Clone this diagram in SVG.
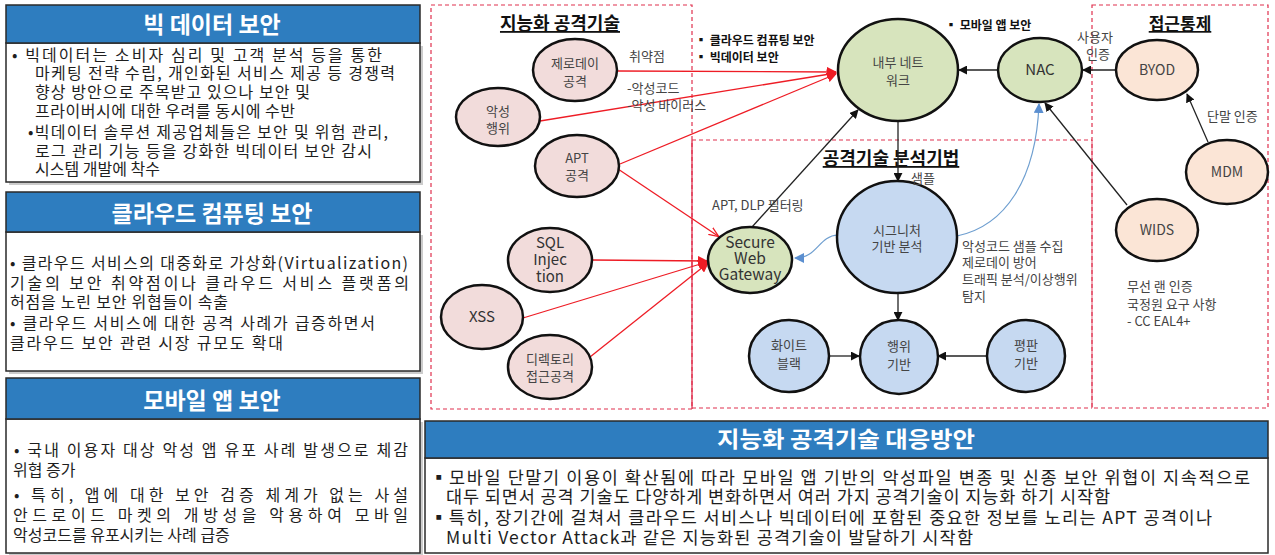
<svg xmlns="http://www.w3.org/2000/svg" width="1275" height="555" viewBox="0 0 1275 555">
<defs>
<style>
text{font-family:"Noto Sans CJK KR","Noto Sans",sans-serif}
.hdr{fill:#2e7dbf;stroke:#2a2a2a;stroke-width:1.5}
.body{fill:#fff;stroke:#2a2a2a;stroke-width:1.5}
.shd{fill:#9a9a9a;opacity:.5}
.ht{font-size:23px;font-weight:bold;fill:#fff;text-anchor:middle}
.bt{font-size:16px;fill:#1e1e1e}
.bt2{font-size:17.5px;fill:#1e1e1e}
.pink{fill:#f2dcdb;stroke:#111;stroke-width:2.5}
.green{fill:#d7e4bd;stroke:#111;stroke-width:2.5}
.blue{fill:#c6d9f1;stroke:#111;stroke-width:2.5}
.beige{fill:#fbe5d6;stroke:#111;stroke-width:2.5}
.nt{font-size:13px;fill:#444;text-anchor:middle}
.nl{font-size:15px;fill:#333;text-anchor:middle}
.lb{font-size:13px;fill:#444}
.bl{font-size:12px;font-weight:bold;fill:#111}
.ttl{font-size:18px;font-weight:bold;fill:#111;text-anchor:middle;text-decoration:underline}
.dash{fill:none;stroke:#e0304e;stroke-width:1.2;stroke-dasharray:4 3}
.red{stroke:#ee1c25;stroke-width:1.3;fill:none}
.blk{stroke:#222;stroke-width:1.3;fill:none}
.blu{stroke:#6f9fd0;stroke-width:1.2;fill:none}
</style>
<marker id="ar" viewBox="0 0 10 10" refX="9" refY="5" markerWidth="10" markerHeight="10" markerUnits="userSpaceOnUse" orient="auto"><path d="M0,0 L10,5 L0,10 z" fill="#ee1c25"/></marker>
<marker id="ao" viewBox="0 0 10 10" refX="9" refY="5" markerWidth="10" markerHeight="10" markerUnits="userSpaceOnUse" orient="auto"><path d="M0,1 L10,5 L0,9" fill="none" stroke="#ee1c25" stroke-width="1.2"/></marker>
<marker id="ak" viewBox="0 0 10 10" refX="9" refY="5" markerWidth="9" markerHeight="9" markerUnits="userSpaceOnUse" orient="auto"><path d="M0,0 L10,5 L0,10 z" fill="#111"/></marker>
<marker id="ab" viewBox="0 0 10 10" refX="9" refY="5" markerWidth="10" markerHeight="10" markerUnits="userSpaceOnUse" orient="auto"><path d="M0,0 L10,5 L0,10 z" fill="#5b8fd0"/></marker>
</defs>
<rect width="1275" height="555" fill="#fff"/>

<!-- Left panel 1 -->
<g id="panel-bigdata">
<rect class="shd" x="9" y="46" width="414" height="139"/>
<rect class="body" x="6" y="43" width="414" height="139"/>
<rect class="hdr" x="6" y="5" width="414" height="38"/>
<text class="ht" x="212" y="33">빅 데이터 보안</text>
<text class="bt" x="12" y="61" textLength="370" lengthAdjust="spacing">•  빅데이터는 소비자 심리 및 고객 분석 등을 통한</text>
<text class="bt" x="35" y="79" textLength="360" lengthAdjust="spacing">마케팅 전략 수립, 개인화된 서비스 제공 등 경쟁력</text>
<text class="bt" x="35" y="98" textLength="275" lengthAdjust="spacing">향상 방안으로 주목받고 있으나 보안 및</text>
<text class="bt" x="35" y="117" textLength="260" lengthAdjust="spacing">프라이버시에 대한 우려를 동시에 수반</text>
<text class="bt" x="28" y="138" textLength="360" lengthAdjust="spacing">•빅데이터 솔루션 제공업체들은 보안 및 위험 관리,</text>
<text class="bt" x="35" y="157" textLength="337" lengthAdjust="spacing">로그 관리 기능 등을 강화한 빅데이터 보안 감시</text>
<text class="bt" x="35" y="175">시스템 개발에 착수</text>
</g>

<!-- Left panel 2 -->
<g id="panel-cloud">
<rect class="shd" x="9" y="235" width="414" height="139"/>
<rect class="body" x="6" y="232" width="414" height="139"/>
<rect class="hdr" x="6" y="192" width="414" height="40"/>
<text class="ht" x="212" y="222">클라우드 컴퓨팅 보안</text>
<text class="bt" x="10" y="269" textLength="398" lengthAdjust="spacing">• 클라우드 서비스의 대중화로 가상화(Virtualization)</text>
<text class="bt" x="10" y="289" textLength="399" lengthAdjust="spacing">기술의 보안 취약점이나 클라우드 서비스 플랫폼의</text>
<text class="bt" x="10" y="308" textLength="218" lengthAdjust="spacing">허점을 노린 보안 위협들이 속출</text>
<text class="bt" x="10" y="329" textLength="365" lengthAdjust="spacing">• 클라우드 서비스에 대한 공격 사례가 급증하면서</text>
<text class="bt" x="10" y="349" textLength="273" lengthAdjust="spacing">클라우드 보안 관련 시장 규모도 확대</text>
</g>

<!-- Left panel 3 -->
<g id="panel-mobile">
<rect class="shd" x="9" y="422" width="414" height="134"/>
<rect class="body" x="6" y="419" width="414" height="134"/>
<rect class="hdr" x="6" y="378" width="414" height="41"/>
<text class="ht" x="212" y="409">모바일 앱 보안</text>
<text class="bt" x="14" y="456" textLength="394" lengthAdjust="spacing">• 국내 이용자 대상 악성 앱 유포 사례 발생으로 체감</text>
<text class="bt" x="13" y="476">위협 증가</text>
<text class="bt" x="14" y="501" textLength="394" lengthAdjust="spacing">• 특히, 앱에 대한 보안 검증 체계가 없는 사설</text>
<text class="bt" x="13" y="521" textLength="395" lengthAdjust="spacing">안드로이드 마켓의 개방성을 악용하여 모바일</text>
<text class="bt" x="13" y="541">악성코드를 유포시키는 사례 급증</text>
</g>

<!-- Region boxes -->
<g id="regions">
<rect class="dash" x="431" y="5" width="261" height="404"/>
<rect class="dash" x="1092" y="5" width="176" height="403"/>
<line class="dash" x1="692" y1="140" x2="1092" y2="140"/>
<line class="dash" x1="692" y1="408" x2="1092" y2="408"/>
<line x1="692" y1="140" x2="692" y2="409" stroke="#e0304e" stroke-width="1.3"/>
<line x1="1092" y1="140" x2="1092" y2="408" stroke="#e0304e" stroke-width="0.8"/>
<text class="ttl" x="560" y="30">지능화 공격기술</text>
<text class="ttl" x="891" y="165">공격기술 분석기법</text>
<text class="ttl" x="1180" y="30" style="font-size:17px">접근통제</text>
</g>

<!-- Connectors -->
<g id="connectors">
<line class="red" x1="618" y1="71" x2="836" y2="72" marker-end="url(#ar)"/>
<line class="red" x1="540" y1="121" x2="836" y2="73" marker-end="url(#ar)"/>
<line class="red" x1="620" y1="164" x2="836" y2="74" marker-end="url(#ar)"/>
<line class="red" x1="618" y1="169" x2="718" y2="236" marker-end="url(#ao)"/>
<line class="red" x1="592" y1="260" x2="707" y2="261" marker-end="url(#ar)"/>
<line class="red" x1="523" y1="318" x2="707" y2="262" marker-end="url(#ar)"/>
<line class="red" x1="590" y1="357" x2="708" y2="263" marker-end="url(#ar)"/>
<line class="blk" x1="752" y1="227" x2="858" y2="110" marker-end="url(#ak)"/>
<line class="blk" x1="998" y1="70" x2="959" y2="70" marker-end="url(#ak)"/>
<line class="blk" x1="1116" y1="70" x2="1083" y2="70" marker-end="url(#ak)"/>
<line class="blk" x1="1208" y1="142" x2="1187" y2="94" marker-end="url(#ak)"/>
<line class="blk" x1="1127" y1="205" x2="1045" y2="103" marker-end="url(#ak)"/>
<line class="blk" x1="898" y1="121" x2="898" y2="181" marker-end="url(#ak)"/>
<line class="blk" x1="898" y1="293" x2="898" y2="320" marker-end="url(#ak)"/>
<line class="blk" x1="829" y1="356" x2="859" y2="356" marker-end="url(#ak)"/>
<line class="blk" x1="987" y1="356" x2="938" y2="356" marker-end="url(#ak)"/>
<path class="blu" d="M957 236 C1005 226 1036 180 1039 104" marker-end="url(#ab)"/>
<path class="blu" d="M838 235 C818 236 818 258 795 258" marker-end="url(#ab)"/>
</g>

<!-- Attack nodes -->
<g id="n-zeroday"><ellipse class="pink" cx="575" cy="70" rx="42" ry="31"/><text class="nt" x="575" y="68">제로데이</text><text class="nt" x="575" y="86">공격</text></g>
<g id="n-malicious"><ellipse class="pink" cx="498" cy="117" rx="42" ry="29"/><text class="nt" x="498" y="116">악성</text><text class="nt" x="498" y="133">행위</text></g>
<g id="n-apt"><ellipse class="pink" cx="577" cy="166" rx="42" ry="31"/><text class="nt" x="577" y="163">APT</text><text class="nt" x="577" y="180">공격</text></g>
<g id="n-sql"><ellipse class="pink" cx="550" cy="260" rx="42" ry="32"/><text class="nl" x="550" y="248">SQL</text><text class="nl" x="550" y="265">Injec</text><text class="nl" x="550" y="282">tion</text></g>
<g id="n-xss"><ellipse class="pink" cx="482" cy="317" rx="41" ry="32"/><text class="nl" x="482" y="322">XSS</text></g>
<g id="n-dir"><ellipse class="pink" cx="550" cy="367" rx="42" ry="32"/><text class="nt" x="550" y="364">디렉토리</text><text class="nt" x="550" y="381">접근공격</text></g>

<!-- Network nodes -->
<g id="n-internal"><ellipse class="green" cx="898" cy="70" rx="60" ry="51"/><text class="nt" x="898" y="67">내부 네트</text><text class="nt" x="898" y="85">워크</text></g>
<g id="n-nac"><ellipse class="green" cx="1040" cy="70" rx="42" ry="32"/><text class="nl" x="1040" y="75">NAC</text></g>
<g id="n-swg"><ellipse class="green" cx="750" cy="260" rx="42" ry="33"/><text class="nl" x="750" y="248" style="font-size:15.5px">Secure</text><text class="nl" x="750" y="264" style="font-size:15.5px">Web</text><text class="nl" x="750" y="280" style="font-size:15.5px">Gateway</text></g>

<!-- Analysis nodes -->
<g id="n-signature"><ellipse class="blue" cx="897" cy="237" rx="60" ry="56"/><text class="nt" x="897" y="235">시그니처</text><text class="nt" x="897" y="251">기반 분석</text></g>
<g id="n-whiteblack"><ellipse class="blue" cx="789" cy="356" rx="40" ry="36"/><text class="nt" x="789" y="350">화이트</text><text class="nt" x="789" y="368">블랙</text></g>
<g id="n-behavior"><ellipse class="blue" cx="899" cy="357" rx="39" ry="37"/><text class="nt" x="899" y="351">행위</text><text class="nt" x="899" y="369">기반</text></g>
<g id="n-reputation"><ellipse class="blue" cx="1026" cy="356" rx="39" ry="36"/><text class="nt" x="1026" y="350">평판</text><text class="nt" x="1026" y="368">기반</text></g>

<!-- Access control nodes -->
<g id="n-byod"><ellipse class="beige" cx="1157" cy="70" rx="41" ry="30"/><text class="nt" x="1157" y="75" style="font-size:14px">BYOD</text></g>
<g id="n-mdm"><ellipse class="beige" cx="1227" cy="172" rx="41" ry="32"/><text class="nt" x="1227" y="177" style="font-size:14px">MDM</text></g>
<g id="n-wids"><ellipse class="beige" cx="1157" cy="230" rx="41" ry="31"/><text class="nt" x="1157" y="235" style="font-size:14px">WIDS</text></g>

<!-- Labels -->
<g id="labels">
<text class="lb" x="629" y="61">취약점</text>
<text class="lb" x="627" y="93">-악성코드</text>
<text class="lb" x="627" y="110">-악성 바이러스</text>
<text class="bl" x="695" y="45">▪ 클라우드 컴퓨팅 보안</text>
<text class="bl" x="695" y="62">▪ 빅데이터 보안</text>
<text class="bl" x="945" y="30">▪ 모바일 앱 보안</text>
<text class="lb" x="1095" y="42" text-anchor="middle">사용자</text>
<text class="lb" x="1098" y="59" text-anchor="middle">인증</text>
<text class="lb" x="1207" y="121">단말 인증</text>
<text class="lb" x="1127" y="291">무선 랜 인증</text>
<text class="lb" x="1127" y="309">국정원 요구 사항</text>
<text class="lb" x="1127" y="326">- CC EAL4+</text>
<text class="lb" x="712" y="210">APT, DLP 필터링</text>
<text class="lb" x="911" y="183">샘플</text>
<text class="lb" x="962" y="251">악성코드 샘플 수집</text>
<text class="lb" x="962" y="267">제로데이 방어</text>
<text class="lb" x="962" y="284">트래픽 분석/이상행위</text>
<text class="lb" x="962" y="301">탐지</text>
</g>

<!-- Bottom right panel -->
<g id="panel-response">
<rect class="body" x="425" y="458" width="843" height="95"/>
<rect class="hdr" x="425" y="421" width="843" height="37"/>
<text class="ht" x="846" y="447" style="font-size:22px" textLength="258" lengthAdjust="spacingAndGlyphs">지능화 공격기술 대응방안</text>
<text class="bt2" x="430" y="484" textLength="820" lengthAdjust="spacing">▪모바일 단말기 이용이 확산됨에 따라 모바일 앱 기반의 악성파일 변종 및 신종 보안 위협이 지속적으로</text>
<text class="bt2" x="446" y="503" textLength="664" lengthAdjust="spacing">대두 되면서 공격 기술도 다양하게 변화하면서 여러 가지 공격기술이 지능화 하기 시작함</text>
<text class="bt2" x="430" y="524" textLength="782" lengthAdjust="spacing">▪특히, 장기간에 걸쳐서 클라우드 서비스나 빅데이터에 포함된 중요한 정보를 노리는 APT 공격이나</text>
<text class="bt2" x="446" y="544" textLength="527" lengthAdjust="spacing">Multi Vector Attack과 같은 지능화된 공격기술이 발달하기 시작함</text>
</g>
</svg>
